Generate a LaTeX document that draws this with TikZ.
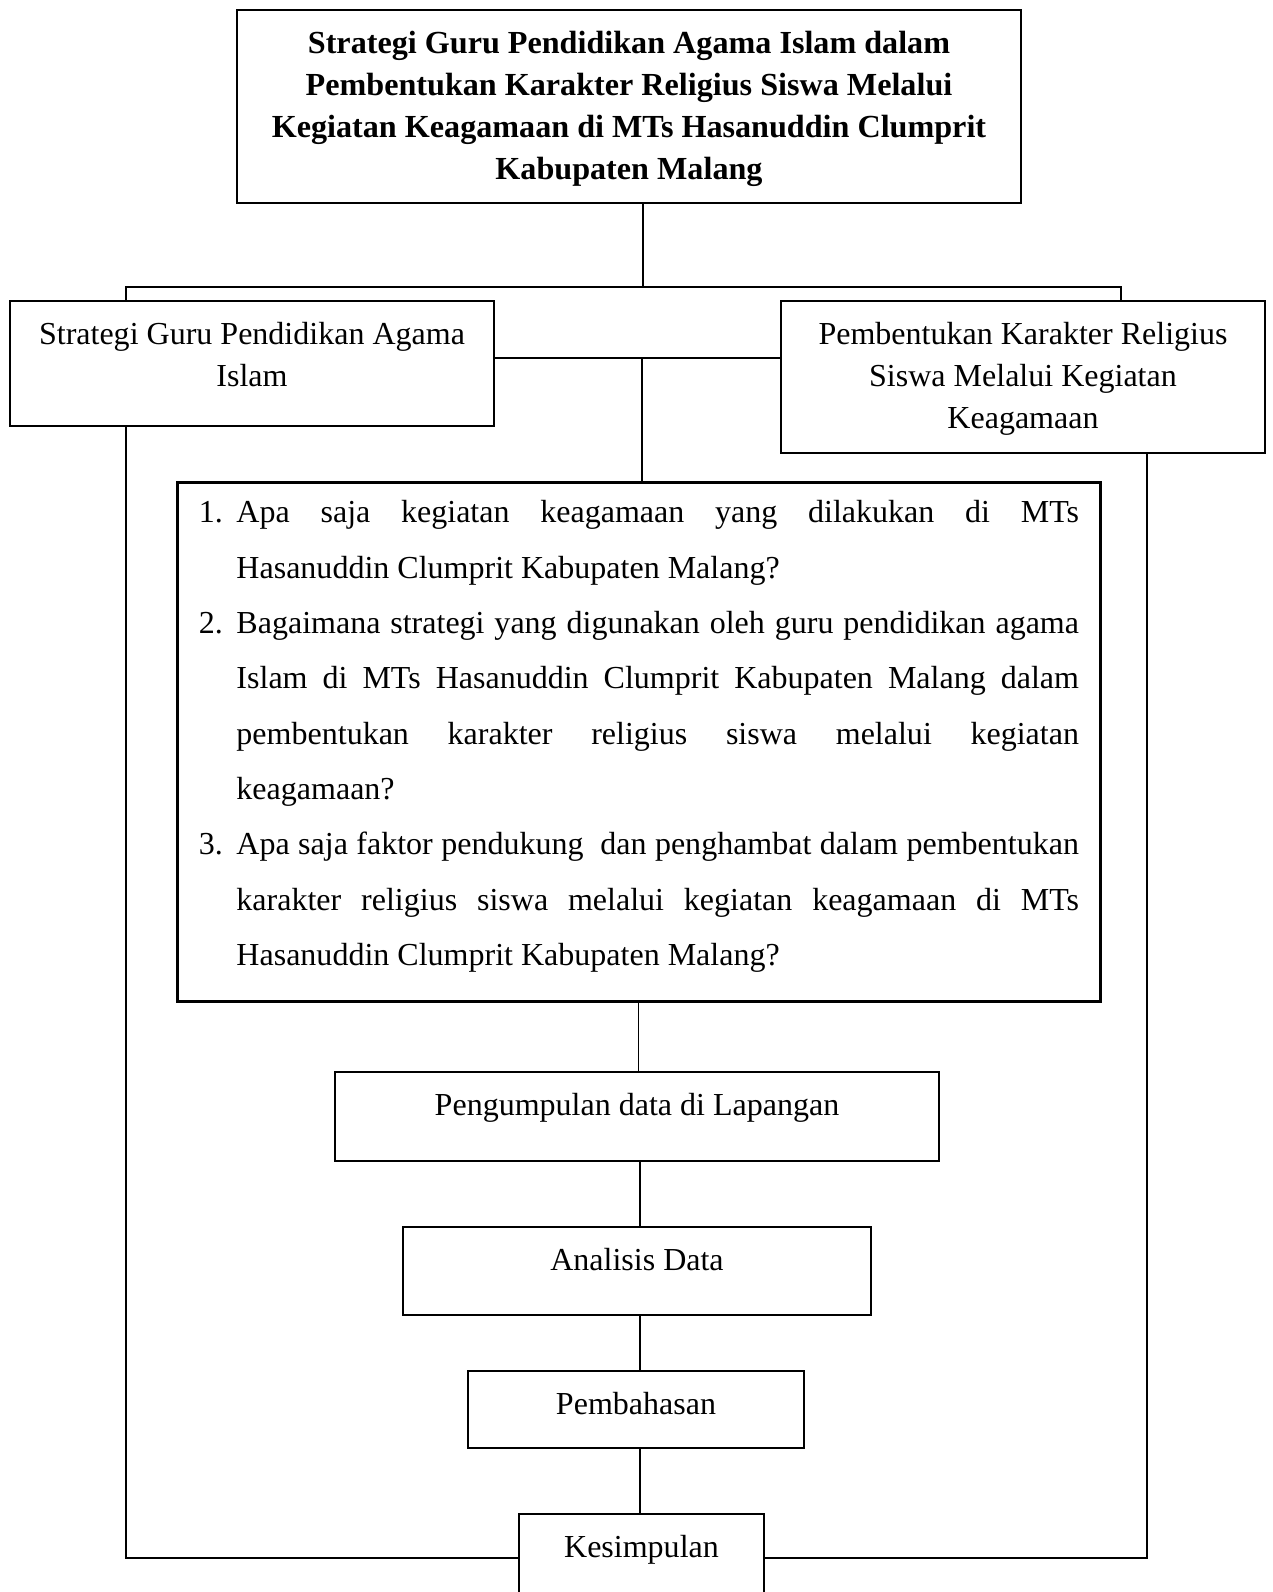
\documentclass[tikz,border=0pt]{standalone}
\usepackage{fontspec}
\setmainfont{Liberation Serif}
\usetikzlibrary{positioning, fit, calc}
\tikzstyle{box}=[draw=black, line width=1pt, inner sep=0pt]
\tikzstyle{link}=[draw=black, line width=0.4pt]
\tikzset{toptext/.style={label={[anchor=north, align=center, yshift=-4.7pt]north:#1}},
  titletext/.style={label={[anchor=north, align=center, yshift=-4.7pt,
      font=\fontsize{11.8}{15.4}\selectfont\bfseries]north:#1}}}

\begin{document}
\begin{tikzpicture}[x=0.367pt, y=-0.367pt, font=\fontsize{11.75}{15.4}\selectfont]
      \useasboundingbox (0,0) rectangle (1273,1592);
      % boxes
      \node[box, fit={(237,10) (1021,203)}, titletext={Strategi Guru Pendidikan Agama Islam dalam\\Pembentukan Karakter Religius Siswa Melalui\\Kegiatan Keagamaan di MTs Hasanuddin Clumprit\\Kabupaten Malang}] (title) {};
      \node[box, fit={(10,301) (494,426)}, toptext={Strategi Guru Pendidikan Agama\\Islam}] (strategi) {};
      \node[box, fit={(781,301) (1265,453)}, toptext={Pembentukan Karakter Religius\\Siswa Melalui Kegiatan\\Keagamaan}] (pembentukan) {};
      \node[box, anchor=north west, text width=323pt, inner xsep=7.9pt, inner ysep=0pt,
        text height=14.9pt, text depth=175.6pt,
        align=justify, font=\fontsize{11.75}{20.3}\selectfont] (rumusan) at (176,481)
        {\hangindent=13.8pt\hangafter=1\noindent\makebox[13.8pt][l]{1.}Apa saja kegiatan keagamaan yang dilakukan di MTs\linebreak Hasanuddin Clumprit Kabupaten Malang?\par
         \hangindent=13.8pt\hangafter=1\noindent\makebox[13.8pt][l]{2.}Bagaimana strategi yang digunakan oleh guru pendidikan agama\linebreak Islam di MTs Hasanuddin Clumprit Kabupaten Malang dalam\linebreak pembentukan karakter religius siswa melalui kegiatan\linebreak keagamaan?\par
         \hangindent=13.8pt\hangafter=1\noindent\makebox[13.8pt][l]{3.}Apa saja faktor pendukung \ dan penghambat dalam pembentukan\linebreak karakter religius siswa melalui kegiatan keagamaan di MTs\linebreak Hasanuddin Clumprit Kabupaten Malang?\par};
      \node[box, fit={(335,1072) (939,1161)}, toptext={Pengumpulan data di Lapangan}] (pengumpulan) {};
      \node[box, fit={(403,1227) (871,1315)}, toptext={Analisis Data}] (analisis) {};
      \node[box, fit={(468,1371) (804,1448)}, toptext={Pembahasan}] (pembahasan) {};
      \node[box, fit={(519,1514) (764,1640)}, toptext={Kesimpulan}] (kesimpulan) {};

      % junctions
      \coordinate (bus) at (643,287);
      \coordinate (busL) at (126,287);
      \coordinate (busR) at (1121,287);
      \coordinate (hub) at (642,358);
      \coordinate (spine) at (640,1200);
      \coordinate (loopL) at (126,1558);
      \coordinate (loopR) at (1147,1558);

      % connectors
      \draw[link] (bus |- title.south) -- (bus);
      \draw[link] (busL |- strategi.north) -- (busL) -- (busR) -- (busR |- pembentukan.north);
      \draw[link] (strategi.east |- hub) -- (pembentukan.west |- hub);
      \draw[link] (hub) -- (hub |- rumusan.north);
      \draw[link] (rumusan.south) -- (rumusan.south |- pengumpulan.north);
      \foreach \a/\b in {pengumpulan/analisis, analisis/pembahasan, pembahasan/kesimpulan}
      \draw[link] (\a.south -| spine) -- (\b.north -| spine);
      \draw[link] (loopL |- strategi.south) -- (loopL) -- (kesimpulan.west |- loopL);
      \draw[link] (loopR |- pembentukan.south) -- (loopR) -- (kesimpulan.east |- loopR);
    \end{tikzpicture}
\end{document}
